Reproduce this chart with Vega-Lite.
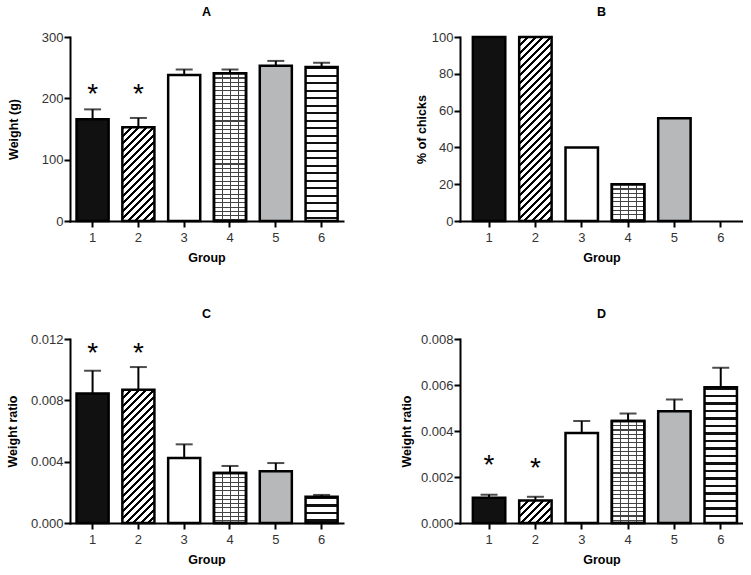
{
"$schema":"https://vega.github.io/schema/vega-lite/v6.json",
"autosize":{"type":"pad"},
"padding":{"left":6,"top":5,"right":0,"bottom":0},
"datasets":{
"A":[{"g":"1","v":165.8,"err":182,"star":211.5},{"g":"2","v":152.8,"err":168,"star":211.5},{"g":"3","v":238,"err":247},{"g":"4","v":241,"err":247},{"g":"5","v":253,"err":261},{"g":"6","v":251,"err":258}],
"B":[{"g":"1","v":100},{"g":"2","v":100},{"g":"3","v":40},{"g":"4","v":20},{"g":"5","v":55.8},{"g":"6","v":0}],
"C":[{"g":"1","v":0.00845,"err":0.00993,"star":0.0113},{"g":"2","v":0.00869,"err":0.01017,"star":0.0113},{"g":"3","v":0.00424,"err":0.00513},{"g":"4","v":0.00326,"err":0.00372},{"g":"5","v":0.00337,"err":0.00391},{"g":"6","v":0.00172,"err":0.00183}],
"D":[{"g":"1","v":0.0011,"err":0.00123,"star":0.00264},{"g":"2","v":0.00098,"err":0.00114,"star":0.00254},{"g":"3","v":0.00391,"err":0.00443},{"g":"4","v":0.00444,"err":0.00476},{"g":"5","v":0.00486,"err":0.00537},{"g":"6","v":0.0059,"err":0.00675}]
},
"columns":2,
"spacing":{"column":117,"row":118},
"bounds":"flush",
"concat":[
{
"width":273,"height":184,"title":"A","data":{"name":"A"},
"encoding":{"x":{"field":"g","type":"ordinal","title":"Group","scale":{"paddingInner":0.3,"paddingOuter":0.13,"align":0.55},"axis":{"labelAngle":0}}},
"layer":[
{"mark":{"type":"bar","stroke":"#000","strokeWidth":2.5},
"encoding":{"y":{"field":"v","type":"quantitative","title":"Weight (g)","scale":{"domain":[0,300],"nice":false},"axis":{"values":[0,100,200,300],"titleX":-50,"labelOverlap":false}},
"fill":{"condition":[
{"test":"datum.g==='2'","value":{"gradient":"linear","x1":0,"y1":0,"x2":0.9817,"y2":2.8654,"stops":[
{"offset":0,"color":"#000"},{"offset":0.01,"color":"#000"},{"offset":0.01,"color":"#fff"},{"offset":0.025,"color":"#fff"},
{"offset":0.025,"color":"#000"},{"offset":0.035,"color":"#000"},{"offset":0.035,"color":"#fff"},{"offset":0.05,"color":"#fff"},
{"offset":0.05,"color":"#000"},{"offset":0.06,"color":"#000"},{"offset":0.06,"color":"#fff"},{"offset":0.075,"color":"#fff"},
{"offset":0.075,"color":"#000"},{"offset":0.085,"color":"#000"},{"offset":0.085,"color":"#fff"},{"offset":0.1,"color":"#fff"},
{"offset":0.1,"color":"#000"},{"offset":0.11,"color":"#000"},{"offset":0.11,"color":"#fff"},{"offset":0.125,"color":"#fff"},
{"offset":0.125,"color":"#000"},{"offset":0.135,"color":"#000"},{"offset":0.135,"color":"#fff"},{"offset":0.15,"color":"#fff"},
{"offset":0.15,"color":"#000"},{"offset":0.16,"color":"#000"},{"offset":0.16,"color":"#fff"},{"offset":0.175,"color":"#fff"},
{"offset":0.175,"color":"#000"},{"offset":0.185,"color":"#000"},{"offset":0.185,"color":"#fff"},{"offset":0.2,"color":"#fff"},
{"offset":0.2,"color":"#000"},{"offset":0.21,"color":"#000"},{"offset":0.21,"color":"#fff"},{"offset":0.225,"color":"#fff"},
{"offset":0.225,"color":"#000"},{"offset":0.235,"color":"#000"},{"offset":0.235,"color":"#fff"},{"offset":0.25,"color":"#fff"},
{"offset":0.25,"color":"#000"},{"offset":0.26,"color":"#000"},{"offset":0.26,"color":"#fff"},{"offset":0.275,"color":"#fff"},
{"offset":0.275,"color":"#000"},{"offset":0.285,"color":"#000"},{"offset":0.285,"color":"#fff"},{"offset":0.3,"color":"#fff"},
{"offset":0.3,"color":"#000"},{"offset":0.31,"color":"#000"},{"offset":0.31,"color":"#fff"},{"offset":0.325,"color":"#fff"},
{"offset":0.325,"color":"#000"},{"offset":0.335,"color":"#000"},{"offset":0.335,"color":"#fff"},{"offset":0.35,"color":"#fff"},
{"offset":0.35,"color":"#000"},{"offset":0.36,"color":"#000"},{"offset":0.36,"color":"#fff"},{"offset":0.375,"color":"#fff"},
{"offset":0.375,"color":"#000"},{"offset":0.385,"color":"#000"},{"offset":0.385,"color":"#fff"},{"offset":0.4,"color":"#fff"},
{"offset":0.4,"color":"#000"},{"offset":0.41,"color":"#000"},{"offset":0.41,"color":"#fff"},{"offset":0.425,"color":"#fff"}
]}},
{"test":"datum.g==='3'","value":"#fff"},
{"test":"datum.g==='4'","value":{"gradient":"linear","x1":0,"y1":0,"x2":0,"y2":1.4547,"stops":[
{"offset":0,"color":"#444"},{"offset":0.005,"color":"#444"},{"offset":0.005,"color":"#fff"},{"offset":0.02,"color":"#fff"},
{"offset":0.02,"color":"#444"},{"offset":0.025,"color":"#444"},{"offset":0.025,"color":"#fff"},{"offset":0.04,"color":"#fff"},
{"offset":0.04,"color":"#444"},{"offset":0.045,"color":"#444"},{"offset":0.045,"color":"#fff"},{"offset":0.06,"color":"#fff"},
{"offset":0.06,"color":"#444"},{"offset":0.065,"color":"#444"},{"offset":0.065,"color":"#fff"},{"offset":0.08,"color":"#fff"},
{"offset":0.08,"color":"#444"},{"offset":0.085,"color":"#444"},{"offset":0.085,"color":"#fff"},{"offset":0.1,"color":"#fff"},
{"offset":0.1,"color":"#444"},{"offset":0.105,"color":"#444"},{"offset":0.105,"color":"#fff"},{"offset":0.12,"color":"#fff"},
{"offset":0.12,"color":"#444"},{"offset":0.125,"color":"#444"},{"offset":0.125,"color":"#fff"},{"offset":0.14,"color":"#fff"},
{"offset":0.14,"color":"#444"},{"offset":0.145,"color":"#444"},{"offset":0.145,"color":"#fff"},{"offset":0.16,"color":"#fff"},
{"offset":0.16,"color":"#444"},{"offset":0.165,"color":"#444"},{"offset":0.165,"color":"#fff"},{"offset":0.18,"color":"#fff"},
{"offset":0.18,"color":"#444"},{"offset":0.185,"color":"#444"},{"offset":0.185,"color":"#fff"},{"offset":0.2,"color":"#fff"},
{"offset":0.2,"color":"#444"},{"offset":0.205,"color":"#444"},{"offset":0.205,"color":"#fff"},{"offset":0.22,"color":"#fff"},
{"offset":0.22,"color":"#444"},{"offset":0.225,"color":"#444"},{"offset":0.225,"color":"#fff"},{"offset":0.24,"color":"#fff"},
{"offset":0.24,"color":"#444"},{"offset":0.245,"color":"#444"},{"offset":0.245,"color":"#fff"},{"offset":0.26,"color":"#fff"},
{"offset":0.26,"color":"#444"},{"offset":0.265,"color":"#444"},{"offset":0.265,"color":"#fff"},{"offset":0.28,"color":"#fff"},
{"offset":0.28,"color":"#444"},{"offset":0.285,"color":"#444"},{"offset":0.285,"color":"#fff"},{"offset":0.3,"color":"#fff"},
{"offset":0.3,"color":"#444"},{"offset":0.305,"color":"#444"},{"offset":0.305,"color":"#fff"},{"offset":0.32,"color":"#fff"},
{"offset":0.32,"color":"#444"},{"offset":0.325,"color":"#444"},{"offset":0.325,"color":"#fff"},{"offset":0.34,"color":"#fff"},
{"offset":0.34,"color":"#444"},{"offset":0.345,"color":"#444"},{"offset":0.345,"color":"#fff"},{"offset":0.36,"color":"#fff"},
{"offset":0.36,"color":"#444"},{"offset":0.365,"color":"#444"},{"offset":0.365,"color":"#fff"},{"offset":0.38,"color":"#fff"},
{"offset":0.38,"color":"#444"},{"offset":0.385,"color":"#444"},{"offset":0.385,"color":"#fff"},{"offset":0.4,"color":"#fff"},
{"offset":0.4,"color":"#444"},{"offset":0.405,"color":"#444"},{"offset":0.405,"color":"#fff"},{"offset":0.42,"color":"#fff"},
{"offset":0.42,"color":"#444"},{"offset":0.425,"color":"#444"},{"offset":0.425,"color":"#fff"},{"offset":0.44,"color":"#fff"},
{"offset":0.44,"color":"#444"},{"offset":0.445,"color":"#444"},{"offset":0.445,"color":"#fff"},{"offset":0.46,"color":"#fff"},
{"offset":0.46,"color":"#444"},{"offset":0.465,"color":"#444"},{"offset":0.465,"color":"#fff"},{"offset":0.48,"color":"#fff"},
{"offset":0.48,"color":"#444"},{"offset":0.485,"color":"#444"},{"offset":0.485,"color":"#fff"},{"offset":0.5,"color":"#fff"},
{"offset":0.5,"color":"#444"},{"offset":0.505,"color":"#444"},{"offset":0.505,"color":"#fff"},{"offset":0.52,"color":"#fff"},
{"offset":0.52,"color":"#444"},{"offset":0.525,"color":"#444"},{"offset":0.525,"color":"#fff"},{"offset":0.54,"color":"#fff"},
{"offset":0.54,"color":"#444"},{"offset":0.545,"color":"#444"},{"offset":0.545,"color":"#fff"},{"offset":0.56,"color":"#fff"},
{"offset":0.56,"color":"#444"},{"offset":0.565,"color":"#444"},{"offset":0.565,"color":"#fff"},{"offset":0.58,"color":"#fff"},
{"offset":0.58,"color":"#444"},{"offset":0.585,"color":"#444"},{"offset":0.585,"color":"#fff"},{"offset":0.6,"color":"#fff"},
{"offset":0.6,"color":"#444"},{"offset":0.605,"color":"#444"},{"offset":0.605,"color":"#fff"},{"offset":0.62,"color":"#fff"},
{"offset":0.62,"color":"#444"},{"offset":0.625,"color":"#444"},{"offset":0.625,"color":"#fff"},{"offset":0.64,"color":"#fff"},
{"offset":0.64,"color":"#444"},{"offset":0.645,"color":"#444"},{"offset":0.645,"color":"#fff"},{"offset":0.66,"color":"#fff"},
{"offset":0.66,"color":"#444"},{"offset":0.665,"color":"#444"},{"offset":0.665,"color":"#fff"},{"offset":0.68,"color":"#fff"},
{"offset":0.68,"color":"#444"},{"offset":0.685,"color":"#444"},{"offset":0.685,"color":"#fff"},{"offset":0.7,"color":"#fff"}
]}},
{"test":"datum.g==='5'","value":"#b7b8ba"},
{"test":"datum.g==='6'","value":{"gradient":"linear","x1":0,"y1":0,"x2":0,"y2":1.9493,"stops":[
{"offset":0,"color":"#111"},{"offset":0.008,"color":"#111"},{"offset":0.008,"color":"#fff"},{"offset":0.025,"color":"#fff"},
{"offset":0.025,"color":"#111"},{"offset":0.033,"color":"#111"},{"offset":0.033,"color":"#fff"},{"offset":0.05,"color":"#fff"},
{"offset":0.05,"color":"#111"},{"offset":0.058,"color":"#111"},{"offset":0.058,"color":"#fff"},{"offset":0.075,"color":"#fff"},
{"offset":0.075,"color":"#111"},{"offset":0.083,"color":"#111"},{"offset":0.083,"color":"#fff"},{"offset":0.1,"color":"#fff"},
{"offset":0.1,"color":"#111"},{"offset":0.108,"color":"#111"},{"offset":0.108,"color":"#fff"},{"offset":0.125,"color":"#fff"},
{"offset":0.125,"color":"#111"},{"offset":0.133,"color":"#111"},{"offset":0.133,"color":"#fff"},{"offset":0.15,"color":"#fff"},
{"offset":0.15,"color":"#111"},{"offset":0.158,"color":"#111"},{"offset":0.158,"color":"#fff"},{"offset":0.175,"color":"#fff"},
{"offset":0.175,"color":"#111"},{"offset":0.183,"color":"#111"},{"offset":0.183,"color":"#fff"},{"offset":0.2,"color":"#fff"},
{"offset":0.2,"color":"#111"},{"offset":0.208,"color":"#111"},{"offset":0.208,"color":"#fff"},{"offset":0.225,"color":"#fff"},
{"offset":0.225,"color":"#111"},{"offset":0.233,"color":"#111"},{"offset":0.233,"color":"#fff"},{"offset":0.25,"color":"#fff"},
{"offset":0.25,"color":"#111"},{"offset":0.258,"color":"#111"},{"offset":0.258,"color":"#fff"},{"offset":0.275,"color":"#fff"},
{"offset":0.275,"color":"#111"},{"offset":0.283,"color":"#111"},{"offset":0.283,"color":"#fff"},{"offset":0.3,"color":"#fff"},
{"offset":0.3,"color":"#111"},{"offset":0.308,"color":"#111"},{"offset":0.308,"color":"#fff"},{"offset":0.325,"color":"#fff"},
{"offset":0.325,"color":"#111"},{"offset":0.333,"color":"#111"},{"offset":0.333,"color":"#fff"},{"offset":0.35,"color":"#fff"},
{"offset":0.35,"color":"#111"},{"offset":0.358,"color":"#111"},{"offset":0.358,"color":"#fff"},{"offset":0.375,"color":"#fff"},
{"offset":0.375,"color":"#111"},{"offset":0.383,"color":"#111"},{"offset":0.383,"color":"#fff"},{"offset":0.4,"color":"#fff"},
{"offset":0.4,"color":"#111"},{"offset":0.408,"color":"#111"},{"offset":0.408,"color":"#fff"},{"offset":0.425,"color":"#fff"},
{"offset":0.425,"color":"#111"},{"offset":0.433,"color":"#111"},{"offset":0.433,"color":"#fff"},{"offset":0.45,"color":"#fff"},
{"offset":0.45,"color":"#111"},{"offset":0.458,"color":"#111"},{"offset":0.458,"color":"#fff"},{"offset":0.475,"color":"#fff"},
{"offset":0.475,"color":"#111"},{"offset":0.483,"color":"#111"},{"offset":0.483,"color":"#fff"},{"offset":0.5,"color":"#fff"},
{"offset":0.5,"color":"#111"},{"offset":0.508,"color":"#111"},{"offset":0.508,"color":"#fff"},{"offset":0.525,"color":"#fff"}
]}}
],"value":"#111"}}},
{"transform":[{"filter":"datum.g==='4'"}],"mark":{"type":"bar","stroke":"#000","strokeWidth":2.5,"fill":{"gradient":"linear","x1":0,"y1":0,"x2":1,"y2":0,"stops":[{"offset":0,"color":"#444"},{"offset":0.035,"color":"#444"},{"offset":0.035,"color":"rgba(255,255,255,0)"},{"offset":0.25,"color":"rgba(255,255,255,0)"},{"offset":0.25,"color":"#444"},{"offset":0.285,"color":"#444"},{"offset":0.285,"color":"rgba(255,255,255,0)"},{"offset":0.5,"color":"rgba(255,255,255,0)"},{"offset":0.5,"color":"#444"},{"offset":0.535,"color":"#444"},{"offset":0.535,"color":"rgba(255,255,255,0)"},{"offset":0.75,"color":"rgba(255,255,255,0)"},{"offset":0.75,"color":"#444"},{"offset":0.785,"color":"#444"},{"offset":0.785,"color":"rgba(255,255,255,0)"},{"offset":1,"color":"rgba(255,255,255,0)"}]}},
"encoding":{"y":{"field":"v","type":"quantitative","title":"Weight (g)"}}},
{"mark":{"type":"rule","color":"#000","strokeWidth":2},"encoding":{"y":{"field":"v","type":"quantitative","title":"Weight (g)"},"y2":{"field":"err"}}},
{"mark":{"type":"tick","color":"#000","thickness":2,"size":17,"orient":"horizontal"},"encoding":{"y":{"field":"err","type":"quantitative","title":"Weight (g)"}}},
{"mark":{"type":"text","text":"*","fontSize":28,"dy":4,"color":"#000"},"encoding":{"y":{"field":"star","type":"quantitative","title":"Weight (g)"}}}
]
},
{
"width":283,"height":184,"title":"B","data":{"name":"B"},
"encoding":{"x":{"field":"g","type":"ordinal","title":"Group","scale":{"paddingInner":0.3,"paddingOuter":0.204,"align":0.68},"axis":{"labelAngle":0}}},
"layer":[
{"mark":{"type":"bar","stroke":"#000","strokeWidth":2.5},
"encoding":{"y":{"field":"v","type":"quantitative","title":"% of chicks","scale":{"domain":[0,100],"nice":false},"axis":{"values":[0,20,40,60,80,100],"titleX":-32,"labelOverlap":false,"tickCount":6}},
"strokeOpacity":{"condition":{"test":"datum.v===0","value":0},"value":1},
"fill":{"condition":[
{"test":"datum.g==='2'","value":{"gradient":"linear","x1":0,"y1":0,"x2":0.2785,"y2":1.5814,"stops":[
{"offset":0,"color":"#000"},{"offset":0.01,"color":"#000"},{"offset":0.01,"color":"#fff"},{"offset":0.025,"color":"#fff"},
{"offset":0.025,"color":"#000"},{"offset":0.035,"color":"#000"},{"offset":0.035,"color":"#fff"},{"offset":0.05,"color":"#fff"},
{"offset":0.05,"color":"#000"},{"offset":0.06,"color":"#000"},{"offset":0.06,"color":"#fff"},{"offset":0.075,"color":"#fff"},
{"offset":0.075,"color":"#000"},{"offset":0.085,"color":"#000"},{"offset":0.085,"color":"#fff"},{"offset":0.1,"color":"#fff"},
{"offset":0.1,"color":"#000"},{"offset":0.11,"color":"#000"},{"offset":0.11,"color":"#fff"},{"offset":0.125,"color":"#fff"},
{"offset":0.125,"color":"#000"},{"offset":0.135,"color":"#000"},{"offset":0.135,"color":"#fff"},{"offset":0.15,"color":"#fff"},
{"offset":0.15,"color":"#000"},{"offset":0.16,"color":"#000"},{"offset":0.16,"color":"#fff"},{"offset":0.175,"color":"#fff"},
{"offset":0.175,"color":"#000"},{"offset":0.185,"color":"#000"},{"offset":0.185,"color":"#fff"},{"offset":0.2,"color":"#fff"},
{"offset":0.2,"color":"#000"},{"offset":0.21,"color":"#000"},{"offset":0.21,"color":"#fff"},{"offset":0.225,"color":"#fff"},
{"offset":0.225,"color":"#000"},{"offset":0.235,"color":"#000"},{"offset":0.235,"color":"#fff"},{"offset":0.25,"color":"#fff"},
{"offset":0.25,"color":"#000"},{"offset":0.26,"color":"#000"},{"offset":0.26,"color":"#fff"},{"offset":0.275,"color":"#fff"},
{"offset":0.275,"color":"#000"},{"offset":0.285,"color":"#000"},{"offset":0.285,"color":"#fff"},{"offset":0.3,"color":"#fff"},
{"offset":0.3,"color":"#000"},{"offset":0.31,"color":"#000"},{"offset":0.31,"color":"#fff"},{"offset":0.325,"color":"#fff"},
{"offset":0.325,"color":"#000"},{"offset":0.335,"color":"#000"},{"offset":0.335,"color":"#fff"},{"offset":0.35,"color":"#fff"},
{"offset":0.35,"color":"#000"},{"offset":0.36,"color":"#000"},{"offset":0.36,"color":"#fff"},{"offset":0.375,"color":"#fff"},
{"offset":0.375,"color":"#000"},{"offset":0.385,"color":"#000"},{"offset":0.385,"color":"#fff"},{"offset":0.4,"color":"#fff"},
{"offset":0.4,"color":"#000"},{"offset":0.41,"color":"#000"},{"offset":0.41,"color":"#fff"},{"offset":0.425,"color":"#fff"},
{"offset":0.425,"color":"#000"},{"offset":0.435,"color":"#000"},{"offset":0.435,"color":"#fff"},{"offset":0.45,"color":"#fff"},
{"offset":0.45,"color":"#000"},{"offset":0.46,"color":"#000"},{"offset":0.46,"color":"#fff"},{"offset":0.475,"color":"#fff"},
{"offset":0.475,"color":"#000"},{"offset":0.485,"color":"#000"},{"offset":0.485,"color":"#fff"},{"offset":0.5,"color":"#fff"},
{"offset":0.5,"color":"#000"},{"offset":0.51,"color":"#000"},{"offset":0.51,"color":"#fff"},{"offset":0.525,"color":"#fff"},
{"offset":0.525,"color":"#000"},{"offset":0.535,"color":"#000"},{"offset":0.535,"color":"#fff"},{"offset":0.55,"color":"#fff"},
{"offset":0.55,"color":"#000"},{"offset":0.56,"color":"#000"},{"offset":0.56,"color":"#fff"},{"offset":0.575,"color":"#fff"},
{"offset":0.575,"color":"#000"},{"offset":0.585,"color":"#000"},{"offset":0.585,"color":"#fff"},{"offset":0.6,"color":"#fff"},
{"offset":0.6,"color":"#000"},{"offset":0.61,"color":"#000"},{"offset":0.61,"color":"#fff"},{"offset":0.625,"color":"#fff"},
{"offset":0.625,"color":"#000"},{"offset":0.635,"color":"#000"},{"offset":0.635,"color":"#fff"},{"offset":0.65,"color":"#fff"},
{"offset":0.65,"color":"#000"},{"offset":0.66,"color":"#000"},{"offset":0.66,"color":"#fff"},{"offset":0.675,"color":"#fff"},
{"offset":0.675,"color":"#000"},{"offset":0.685,"color":"#000"},{"offset":0.685,"color":"#fff"},{"offset":0.7,"color":"#fff"},
{"offset":0.7,"color":"#000"},{"offset":0.71,"color":"#000"},{"offset":0.71,"color":"#fff"},{"offset":0.725,"color":"#fff"}
]}},
{"test":"datum.g==='3'","value":"#fff"},
{"test":"datum.g==='4'","value":{"gradient":"linear","x1":0,"y1":0,"x2":0,"y2":5.8424,"stops":[
{"offset":0,"color":"#444"},{"offset":0.005,"color":"#444"},{"offset":0.005,"color":"#fff"},{"offset":0.02,"color":"#fff"},
{"offset":0.02,"color":"#444"},{"offset":0.025,"color":"#444"},{"offset":0.025,"color":"#fff"},{"offset":0.04,"color":"#fff"},
{"offset":0.04,"color":"#444"},{"offset":0.045,"color":"#444"},{"offset":0.045,"color":"#fff"},{"offset":0.06,"color":"#fff"},
{"offset":0.06,"color":"#444"},{"offset":0.065,"color":"#444"},{"offset":0.065,"color":"#fff"},{"offset":0.08,"color":"#fff"},
{"offset":0.08,"color":"#444"},{"offset":0.085,"color":"#444"},{"offset":0.085,"color":"#fff"},{"offset":0.1,"color":"#fff"},
{"offset":0.1,"color":"#444"},{"offset":0.105,"color":"#444"},{"offset":0.105,"color":"#fff"},{"offset":0.12,"color":"#fff"},
{"offset":0.12,"color":"#444"},{"offset":0.125,"color":"#444"},{"offset":0.125,"color":"#fff"},{"offset":0.14,"color":"#fff"},
{"offset":0.14,"color":"#444"},{"offset":0.145,"color":"#444"},{"offset":0.145,"color":"#fff"},{"offset":0.16,"color":"#fff"},
{"offset":0.16,"color":"#444"},{"offset":0.165,"color":"#444"},{"offset":0.165,"color":"#fff"},{"offset":0.18,"color":"#fff"}
]}},
{"test":"datum.g==='5'","value":"#b7b8ba"},
{"test":"datum.g==='6'","value":"#fff"}
],"value":"#111"}}},
{"transform":[{"filter":"datum.g==='4'"}],"mark":{"type":"bar","stroke":"#000","strokeWidth":2.5,"fill":{"gradient":"linear","x1":0,"y1":0,"x2":1,"y2":0,"stops":[{"offset":0,"color":"#444"},{"offset":0.035,"color":"#444"},{"offset":0.035,"color":"rgba(255,255,255,0)"},{"offset":0.25,"color":"rgba(255,255,255,0)"},{"offset":0.25,"color":"#444"},{"offset":0.285,"color":"#444"},{"offset":0.285,"color":"rgba(255,255,255,0)"},{"offset":0.5,"color":"rgba(255,255,255,0)"},{"offset":0.5,"color":"#444"},{"offset":0.535,"color":"#444"},{"offset":0.535,"color":"rgba(255,255,255,0)"},{"offset":0.75,"color":"rgba(255,255,255,0)"},{"offset":0.75,"color":"#444"},{"offset":0.785,"color":"#444"},{"offset":0.785,"color":"rgba(255,255,255,0)"},{"offset":1,"color":"rgba(255,255,255,0)"}]}},
"encoding":{"y":{"field":"v","type":"quantitative","title":"% of chicks","axis":{"values":[0,20,40,60,80,100],"titleX":-32,"labelOverlap":false}}}}
]
},
{
"width":273,"height":184,"title":"C","data":{"name":"C"},
"encoding":{"x":{"field":"g","type":"ordinal","title":"Group","scale":{"paddingInner":0.3,"paddingOuter":0.13,"align":0.55},"axis":{"labelAngle":0}}},
"layer":[
{"mark":{"type":"bar","stroke":"#000","strokeWidth":2.5},
"encoding":{"y":{"field":"v","type":"quantitative","title":"Weight ratio","scale":{"domain":[0,0.012],"nice":false},"axis":{"values":[0,0.004,0.008,0.012],"format":".3f","titleX":-51,"labelOverlap":false}},
"fill":{"condition":[
{"test":"datum.g==='2'","value":{"gradient":"linear","x1":0,"y1":0,"x2":0.513,"y2":2.1286,"stops":[
{"offset":0,"color":"#000"},{"offset":0.01,"color":"#000"},{"offset":0.01,"color":"#fff"},{"offset":0.025,"color":"#fff"},
{"offset":0.025,"color":"#000"},{"offset":0.035,"color":"#000"},{"offset":0.035,"color":"#fff"},{"offset":0.05,"color":"#fff"},
{"offset":0.05,"color":"#000"},{"offset":0.06,"color":"#000"},{"offset":0.06,"color":"#fff"},{"offset":0.075,"color":"#fff"},
{"offset":0.075,"color":"#000"},{"offset":0.085,"color":"#000"},{"offset":0.085,"color":"#fff"},{"offset":0.1,"color":"#fff"},
{"offset":0.1,"color":"#000"},{"offset":0.11,"color":"#000"},{"offset":0.11,"color":"#fff"},{"offset":0.125,"color":"#fff"},
{"offset":0.125,"color":"#000"},{"offset":0.135,"color":"#000"},{"offset":0.135,"color":"#fff"},{"offset":0.15,"color":"#fff"},
{"offset":0.15,"color":"#000"},{"offset":0.16,"color":"#000"},{"offset":0.16,"color":"#fff"},{"offset":0.175,"color":"#fff"},
{"offset":0.175,"color":"#000"},{"offset":0.185,"color":"#000"},{"offset":0.185,"color":"#fff"},{"offset":0.2,"color":"#fff"},
{"offset":0.2,"color":"#000"},{"offset":0.21,"color":"#000"},{"offset":0.21,"color":"#fff"},{"offset":0.225,"color":"#fff"},
{"offset":0.225,"color":"#000"},{"offset":0.235,"color":"#000"},{"offset":0.235,"color":"#fff"},{"offset":0.25,"color":"#fff"},
{"offset":0.25,"color":"#000"},{"offset":0.26,"color":"#000"},{"offset":0.26,"color":"#fff"},{"offset":0.275,"color":"#fff"},
{"offset":0.275,"color":"#000"},{"offset":0.285,"color":"#000"},{"offset":0.285,"color":"#fff"},{"offset":0.3,"color":"#fff"},
{"offset":0.3,"color":"#000"},{"offset":0.31,"color":"#000"},{"offset":0.31,"color":"#fff"},{"offset":0.325,"color":"#fff"},
{"offset":0.325,"color":"#000"},{"offset":0.335,"color":"#000"},{"offset":0.335,"color":"#fff"},{"offset":0.35,"color":"#fff"},
{"offset":0.35,"color":"#000"},{"offset":0.36,"color":"#000"},{"offset":0.36,"color":"#fff"},{"offset":0.375,"color":"#fff"},
{"offset":0.375,"color":"#000"},{"offset":0.385,"color":"#000"},{"offset":0.385,"color":"#fff"},{"offset":0.4,"color":"#fff"},
{"offset":0.4,"color":"#000"},{"offset":0.41,"color":"#000"},{"offset":0.41,"color":"#fff"},{"offset":0.425,"color":"#fff"},
{"offset":0.425,"color":"#000"},{"offset":0.435,"color":"#000"},{"offset":0.435,"color":"#fff"},{"offset":0.45,"color":"#fff"},
{"offset":0.45,"color":"#000"},{"offset":0.46,"color":"#000"},{"offset":0.46,"color":"#fff"},{"offset":0.475,"color":"#fff"},
{"offset":0.475,"color":"#000"},{"offset":0.485,"color":"#000"},{"offset":0.485,"color":"#fff"},{"offset":0.5,"color":"#fff"},
{"offset":0.5,"color":"#000"},{"offset":0.51,"color":"#000"},{"offset":0.51,"color":"#fff"},{"offset":0.525,"color":"#fff"},
{"offset":0.525,"color":"#000"},{"offset":0.535,"color":"#000"},{"offset":0.535,"color":"#fff"},{"offset":0.55,"color":"#fff"},
{"offset":0.55,"color":"#000"},{"offset":0.56,"color":"#000"},{"offset":0.56,"color":"#fff"},{"offset":0.575,"color":"#fff"}
]}},
{"test":"datum.g==='3'","value":"#fff"},
{"test":"datum.g==='4'","value":{"gradient":"linear","x1":0,"y1":0,"x2":0,"y2":4.3,"stops":[
{"offset":0,"color":"#444"},{"offset":0.005,"color":"#444"},{"offset":0.005,"color":"#fff"},{"offset":0.02,"color":"#fff"},
{"offset":0.02,"color":"#444"},{"offset":0.025,"color":"#444"},{"offset":0.025,"color":"#fff"},{"offset":0.04,"color":"#fff"},
{"offset":0.04,"color":"#444"},{"offset":0.045,"color":"#444"},{"offset":0.045,"color":"#fff"},{"offset":0.06,"color":"#fff"},
{"offset":0.06,"color":"#444"},{"offset":0.065,"color":"#444"},{"offset":0.065,"color":"#fff"},{"offset":0.08,"color":"#fff"},
{"offset":0.08,"color":"#444"},{"offset":0.085,"color":"#444"},{"offset":0.085,"color":"#fff"},{"offset":0.1,"color":"#fff"},
{"offset":0.1,"color":"#444"},{"offset":0.105,"color":"#444"},{"offset":0.105,"color":"#fff"},{"offset":0.12,"color":"#fff"},
{"offset":0.12,"color":"#444"},{"offset":0.125,"color":"#444"},{"offset":0.125,"color":"#fff"},{"offset":0.14,"color":"#fff"},
{"offset":0.14,"color":"#444"},{"offset":0.145,"color":"#444"},{"offset":0.145,"color":"#fff"},{"offset":0.16,"color":"#fff"},
{"offset":0.16,"color":"#444"},{"offset":0.165,"color":"#444"},{"offset":0.165,"color":"#fff"},{"offset":0.18,"color":"#fff"},
{"offset":0.18,"color":"#444"},{"offset":0.185,"color":"#444"},{"offset":0.185,"color":"#fff"},{"offset":0.2,"color":"#fff"},
{"offset":0.2,"color":"#444"},{"offset":0.205,"color":"#444"},{"offset":0.205,"color":"#fff"},{"offset":0.22,"color":"#fff"},
{"offset":0.22,"color":"#444"},{"offset":0.225,"color":"#444"},{"offset":0.225,"color":"#fff"},{"offset":0.24,"color":"#fff"}
]}},
{"test":"datum.g==='5'","value":"#b7b8ba"},
{"test":"datum.g==='6'","value":{"gradient":"linear","x1":0,"y1":0,"x2":0,"y2":11.364,"stops":[
{"offset":0,"color":"#111"},{"offset":0.008,"color":"#111"},{"offset":0.008,"color":"#fff"},{"offset":0.025,"color":"#fff"},
{"offset":0.025,"color":"#111"},{"offset":0.033,"color":"#111"},{"offset":0.033,"color":"#fff"},{"offset":0.05,"color":"#fff"},
{"offset":0.05,"color":"#111"},{"offset":0.058,"color":"#111"},{"offset":0.058,"color":"#fff"},{"offset":0.075,"color":"#fff"},
{"offset":0.075,"color":"#111"},{"offset":0.083,"color":"#111"},{"offset":0.083,"color":"#fff"},{"offset":0.1,"color":"#fff"}
]}}
],"value":"#111"}}},
{"transform":[{"filter":"datum.g==='4'"}],"mark":{"type":"bar","stroke":"#000","strokeWidth":2.5,"fill":{"gradient":"linear","x1":0,"y1":0,"x2":1,"y2":0,"stops":[{"offset":0,"color":"#444"},{"offset":0.035,"color":"#444"},{"offset":0.035,"color":"rgba(255,255,255,0)"},{"offset":0.25,"color":"rgba(255,255,255,0)"},{"offset":0.25,"color":"#444"},{"offset":0.285,"color":"#444"},{"offset":0.285,"color":"rgba(255,255,255,0)"},{"offset":0.5,"color":"rgba(255,255,255,0)"},{"offset":0.5,"color":"#444"},{"offset":0.535,"color":"#444"},{"offset":0.535,"color":"rgba(255,255,255,0)"},{"offset":0.75,"color":"rgba(255,255,255,0)"},{"offset":0.75,"color":"#444"},{"offset":0.785,"color":"#444"},{"offset":0.785,"color":"rgba(255,255,255,0)"},{"offset":1,"color":"rgba(255,255,255,0)"}]}},
"encoding":{"y":{"field":"v","type":"quantitative","title":"Weight ratio"}}},
{"mark":{"type":"rule","color":"#000","strokeWidth":2},"encoding":{"y":{"field":"v","type":"quantitative","title":"Weight ratio"},"y2":{"field":"err"}}},
{"mark":{"type":"tick","color":"#000","thickness":2,"size":17,"orient":"horizontal"},"encoding":{"y":{"field":"err","type":"quantitative","title":"Weight ratio"}}},
{"mark":{"type":"text","text":"*","fontSize":28,"dy":4,"color":"#000"},"encoding":{"y":{"field":"star","type":"quantitative","title":"Weight ratio"}}}
]
},
{
"width":283,"height":184,"title":"D","data":{"name":"D"},
"encoding":{"x":{"field":"g","type":"ordinal","title":"Group","scale":{"paddingInner":0.3,"paddingOuter":0.204,"align":0.68},"axis":{"labelAngle":0}}},
"layer":[
{"mark":{"type":"bar","stroke":"#000","strokeWidth":2.5},
"encoding":{"y":{"field":"v","type":"quantitative","title":"Weight ratio","scale":{"domain":[0,0.008],"nice":false},"axis":{"values":[0,0.002,0.004,0.006,0.008],"format":".3f","titleX":-47,"labelOverlap":false}},
"fill":{"condition":[
{"test":"datum.g==='2'","value":{"gradient":"linear","x1":0,"y1":0,"x2":6.2468,"y2":4.338,"stops":[
{"offset":0,"color":"#000"},{"offset":0.01,"color":"#000"},{"offset":0.01,"color":"#fff"},{"offset":0.025,"color":"#fff"},
{"offset":0.025,"color":"#000"},{"offset":0.035,"color":"#000"},{"offset":0.035,"color":"#fff"},{"offset":0.05,"color":"#fff"},
{"offset":0.05,"color":"#000"},{"offset":0.06,"color":"#000"},{"offset":0.06,"color":"#fff"},{"offset":0.075,"color":"#fff"},
{"offset":0.075,"color":"#000"},{"offset":0.085,"color":"#000"},{"offset":0.085,"color":"#fff"},{"offset":0.1,"color":"#fff"},
{"offset":0.1,"color":"#000"},{"offset":0.11,"color":"#000"},{"offset":0.11,"color":"#fff"},{"offset":0.125,"color":"#fff"},
{"offset":0.125,"color":"#000"},{"offset":0.135,"color":"#000"},{"offset":0.135,"color":"#fff"},{"offset":0.15,"color":"#fff"},
{"offset":0.15,"color":"#000"},{"offset":0.16,"color":"#000"},{"offset":0.16,"color":"#fff"},{"offset":0.175,"color":"#fff"},
{"offset":0.175,"color":"#000"},{"offset":0.185,"color":"#000"},{"offset":0.185,"color":"#fff"},{"offset":0.2,"color":"#fff"}
]}},
{"test":"datum.g==='3'","value":"#fff"},
{"test":"datum.g==='4'","value":{"gradient":"linear","x1":0,"y1":0,"x2":0,"y2":2.1058,"stops":[
{"offset":0,"color":"#444"},{"offset":0.005,"color":"#444"},{"offset":0.005,"color":"#fff"},{"offset":0.02,"color":"#fff"},
{"offset":0.02,"color":"#444"},{"offset":0.025,"color":"#444"},{"offset":0.025,"color":"#fff"},{"offset":0.04,"color":"#fff"},
{"offset":0.04,"color":"#444"},{"offset":0.045,"color":"#444"},{"offset":0.045,"color":"#fff"},{"offset":0.06,"color":"#fff"},
{"offset":0.06,"color":"#444"},{"offset":0.065,"color":"#444"},{"offset":0.065,"color":"#fff"},{"offset":0.08,"color":"#fff"},
{"offset":0.08,"color":"#444"},{"offset":0.085,"color":"#444"},{"offset":0.085,"color":"#fff"},{"offset":0.1,"color":"#fff"},
{"offset":0.1,"color":"#444"},{"offset":0.105,"color":"#444"},{"offset":0.105,"color":"#fff"},{"offset":0.12,"color":"#fff"},
{"offset":0.12,"color":"#444"},{"offset":0.125,"color":"#444"},{"offset":0.125,"color":"#fff"},{"offset":0.14,"color":"#fff"},
{"offset":0.14,"color":"#444"},{"offset":0.145,"color":"#444"},{"offset":0.145,"color":"#fff"},{"offset":0.16,"color":"#fff"},
{"offset":0.16,"color":"#444"},{"offset":0.165,"color":"#444"},{"offset":0.165,"color":"#fff"},{"offset":0.18,"color":"#fff"},
{"offset":0.18,"color":"#444"},{"offset":0.185,"color":"#444"},{"offset":0.185,"color":"#fff"},{"offset":0.2,"color":"#fff"},
{"offset":0.2,"color":"#444"},{"offset":0.205,"color":"#444"},{"offset":0.205,"color":"#fff"},{"offset":0.22,"color":"#fff"},
{"offset":0.22,"color":"#444"},{"offset":0.225,"color":"#444"},{"offset":0.225,"color":"#fff"},{"offset":0.24,"color":"#fff"},
{"offset":0.24,"color":"#444"},{"offset":0.245,"color":"#444"},{"offset":0.245,"color":"#fff"},{"offset":0.26,"color":"#fff"},
{"offset":0.26,"color":"#444"},{"offset":0.265,"color":"#444"},{"offset":0.265,"color":"#fff"},{"offset":0.28,"color":"#fff"},
{"offset":0.28,"color":"#444"},{"offset":0.285,"color":"#444"},{"offset":0.285,"color":"#fff"},{"offset":0.3,"color":"#fff"},
{"offset":0.3,"color":"#444"},{"offset":0.305,"color":"#444"},{"offset":0.305,"color":"#fff"},{"offset":0.32,"color":"#fff"},
{"offset":0.32,"color":"#444"},{"offset":0.325,"color":"#444"},{"offset":0.325,"color":"#fff"},{"offset":0.34,"color":"#fff"},
{"offset":0.34,"color":"#444"},{"offset":0.345,"color":"#444"},{"offset":0.345,"color":"#fff"},{"offset":0.36,"color":"#fff"},
{"offset":0.36,"color":"#444"},{"offset":0.365,"color":"#444"},{"offset":0.365,"color":"#fff"},{"offset":0.38,"color":"#fff"},
{"offset":0.38,"color":"#444"},{"offset":0.385,"color":"#444"},{"offset":0.385,"color":"#fff"},{"offset":0.4,"color":"#fff"},
{"offset":0.4,"color":"#444"},{"offset":0.405,"color":"#444"},{"offset":0.405,"color":"#fff"},{"offset":0.42,"color":"#fff"},
{"offset":0.42,"color":"#444"},{"offset":0.425,"color":"#444"},{"offset":0.425,"color":"#fff"},{"offset":0.44,"color":"#fff"},
{"offset":0.44,"color":"#444"},{"offset":0.445,"color":"#444"},{"offset":0.445,"color":"#fff"},{"offset":0.46,"color":"#fff"},
{"offset":0.46,"color":"#444"},{"offset":0.465,"color":"#444"},{"offset":0.465,"color":"#fff"},{"offset":0.48,"color":"#fff"}
]}},
{"test":"datum.g==='5'","value":"#b7b8ba"},
{"test":"datum.g==='6'","value":{"gradient":"linear","x1":0,"y1":0,"x2":0,"y2":2.2108,"stops":[
{"offset":0,"color":"#111"},{"offset":0.008,"color":"#111"},{"offset":0.008,"color":"#fff"},{"offset":0.025,"color":"#fff"},
{"offset":0.025,"color":"#111"},{"offset":0.033,"color":"#111"},{"offset":0.033,"color":"#fff"},{"offset":0.05,"color":"#fff"},
{"offset":0.05,"color":"#111"},{"offset":0.058,"color":"#111"},{"offset":0.058,"color":"#fff"},{"offset":0.075,"color":"#fff"},
{"offset":0.075,"color":"#111"},{"offset":0.083,"color":"#111"},{"offset":0.083,"color":"#fff"},{"offset":0.1,"color":"#fff"},
{"offset":0.1,"color":"#111"},{"offset":0.108,"color":"#111"},{"offset":0.108,"color":"#fff"},{"offset":0.125,"color":"#fff"},
{"offset":0.125,"color":"#111"},{"offset":0.133,"color":"#111"},{"offset":0.133,"color":"#fff"},{"offset":0.15,"color":"#fff"},
{"offset":0.15,"color":"#111"},{"offset":0.158,"color":"#111"},{"offset":0.158,"color":"#fff"},{"offset":0.175,"color":"#fff"},
{"offset":0.175,"color":"#111"},{"offset":0.183,"color":"#111"},{"offset":0.183,"color":"#fff"},{"offset":0.2,"color":"#fff"},
{"offset":0.2,"color":"#111"},{"offset":0.208,"color":"#111"},{"offset":0.208,"color":"#fff"},{"offset":0.225,"color":"#fff"},
{"offset":0.225,"color":"#111"},{"offset":0.233,"color":"#111"},{"offset":0.233,"color":"#fff"},{"offset":0.25,"color":"#fff"},
{"offset":0.25,"color":"#111"},{"offset":0.258,"color":"#111"},{"offset":0.258,"color":"#fff"},{"offset":0.275,"color":"#fff"},
{"offset":0.275,"color":"#111"},{"offset":0.283,"color":"#111"},{"offset":0.283,"color":"#fff"},{"offset":0.3,"color":"#fff"},
{"offset":0.3,"color":"#111"},{"offset":0.308,"color":"#111"},{"offset":0.308,"color":"#fff"},{"offset":0.325,"color":"#fff"},
{"offset":0.325,"color":"#111"},{"offset":0.333,"color":"#111"},{"offset":0.333,"color":"#fff"},{"offset":0.35,"color":"#fff"},
{"offset":0.35,"color":"#111"},{"offset":0.358,"color":"#111"},{"offset":0.358,"color":"#fff"},{"offset":0.375,"color":"#fff"},
{"offset":0.375,"color":"#111"},{"offset":0.383,"color":"#111"},{"offset":0.383,"color":"#fff"},{"offset":0.4,"color":"#fff"},
{"offset":0.4,"color":"#111"},{"offset":0.408,"color":"#111"},{"offset":0.408,"color":"#fff"},{"offset":0.425,"color":"#fff"},
{"offset":0.425,"color":"#111"},{"offset":0.433,"color":"#111"},{"offset":0.433,"color":"#fff"},{"offset":0.45,"color":"#fff"},
{"offset":0.45,"color":"#111"},{"offset":0.458,"color":"#111"},{"offset":0.458,"color":"#fff"},{"offset":0.475,"color":"#fff"}
]}}
],"value":"#111"}}},
{"transform":[{"filter":"datum.g==='4'"}],"mark":{"type":"bar","stroke":"#000","strokeWidth":2.5,"fill":{"gradient":"linear","x1":0,"y1":0,"x2":1,"y2":0,"stops":[{"offset":0,"color":"#444"},{"offset":0.035,"color":"#444"},{"offset":0.035,"color":"rgba(255,255,255,0)"},{"offset":0.25,"color":"rgba(255,255,255,0)"},{"offset":0.25,"color":"#444"},{"offset":0.285,"color":"#444"},{"offset":0.285,"color":"rgba(255,255,255,0)"},{"offset":0.5,"color":"rgba(255,255,255,0)"},{"offset":0.5,"color":"#444"},{"offset":0.535,"color":"#444"},{"offset":0.535,"color":"rgba(255,255,255,0)"},{"offset":0.75,"color":"rgba(255,255,255,0)"},{"offset":0.75,"color":"#444"},{"offset":0.785,"color":"#444"},{"offset":0.785,"color":"rgba(255,255,255,0)"},{"offset":1,"color":"rgba(255,255,255,0)"}]}},
"encoding":{"y":{"field":"v","type":"quantitative","title":"Weight ratio"}}},
{"mark":{"type":"rule","color":"#000","strokeWidth":2},"encoding":{"y":{"field":"v","type":"quantitative","title":"Weight ratio"},"y2":{"field":"err"}}},
{"mark":{"type":"tick","color":"#000","thickness":2,"size":17,"orient":"horizontal"},"encoding":{"y":{"field":"err","type":"quantitative","title":"Weight ratio"}}},
{"mark":{"type":"text","text":"*","fontSize":28,"dy":4,"color":"#000"},"encoding":{"y":{"field":"star","type":"quantitative","title":"Weight ratio"}}}
]
}
],
"config":{
"view":{"stroke":null},
"font":"Liberation Sans",
"title":{"fontSize":12.5,"fontWeight":"bold","color":"#000","anchor":"middle","frame":"group","offset":13},
"axis":{"domainColor":"#000","domainWidth":2,"domainCap":"square","tickColor":"#000","tickWidth":2,"tickSize":6,"labelColor":"#333","labelFontSize":13,"labelOverlap":false,"titleFontSize":12.5,"titleFontWeight":"bold","titleColor":"#000","grid":false},
"axisX":{"labelPadding":4,"titlePadding":7},
"axisY":{"labelPadding":1}
}
}
